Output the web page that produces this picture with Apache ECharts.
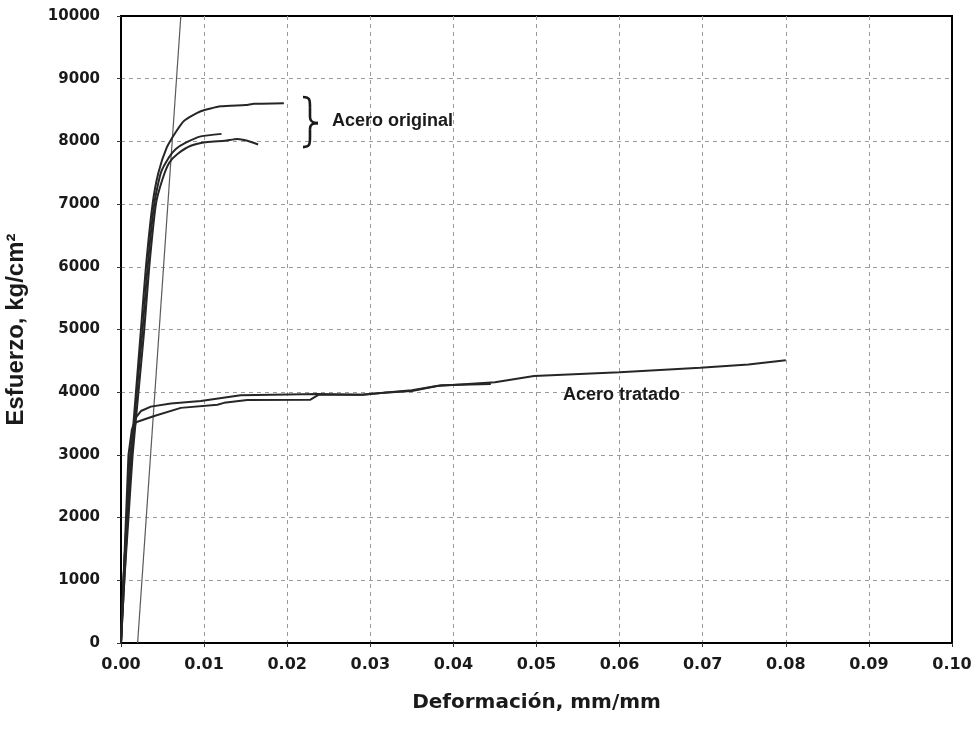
<!DOCTYPE html>
<html>
<head>
<meta charset="utf-8">
<script src="https://cdn.jsdelivr.net/npm/echarts@6/dist/echarts.min.js"></script>
<style>
  html, body { margin: 0; padding: 0; background: #fff; }
  #chart { width: 971px; height: 747px; }
</style>
</head>
<body>
<div id="chart"></div>
<script>
// Stress-strain curves: original steel (3 specimens) and treated steel (2 specimens)
const origAStrain = [0, 0.0003, 0.0007, 0.0012, 0.0018, 0.0024, 0.0030, 0.0038, 0.0045, 0.0055, 0.0066, 0.0076, 0.0096, 0.0120, 0.0150, 0.0160, 0.0196];
const origAStress = [0, 1000, 2000, 3000, 4000, 5000, 6000, 7000, 7500, 7900, 8150, 8330, 8480, 8560, 8580, 8600, 8610];

const origBStrain = [0, 0.0004, 0.0008, 0.0013, 0.0019, 0.0026, 0.0032, 0.0040, 0.0048, 0.0058, 0.0066, 0.0078, 0.0096, 0.0121];
const origBStress = [0, 1000, 2000, 3000, 4000, 5000, 6000, 7000, 7500, 7750, 7880, 7980, 8080, 8120];

const origCStrain = [0, 0.0004, 0.0009, 0.0014, 0.0021, 0.0028, 0.0034, 0.0042, 0.0050, 0.0058, 0.0068, 0.0084, 0.0104, 0.0125, 0.0140, 0.0152, 0.0165];
const origCStress = [0, 1000, 2000, 3000, 4000, 5000, 6000, 7000, 7400, 7660, 7800, 7930, 7990, 8010, 8040, 8010, 7950];

const tratAStrain = [0, 0.0003, 0.0006, 0.0009, 0.0013, 0.0018, 0.0024, 0.0036, 0.0060, 0.0096, 0.0144, 0.0237, 0.0290, 0.0316, 0.0350, 0.0385, 0.0445];
const tratAStress = [0, 1000, 2000, 3000, 3400, 3600, 3700, 3770, 3820, 3860, 3950, 3970, 3960, 3990, 4020, 4110, 4130];

const tratBStrain = [0, 0.0003, 0.0007, 0.0011, 0.0015, 0.0018, 0.0040, 0.0072, 0.0116, 0.0124, 0.0152, 0.0228, 0.0238, 0.0290, 0.0316, 0.0350, 0.0380, 0.0450, 0.0497, 0.0600, 0.0697, 0.0755, 0.0800];
const tratBStress = [0, 1000, 2000, 3000, 3400, 3520, 3620, 3750, 3800, 3830, 3875, 3880, 3960, 3960, 3990, 4030, 4100, 4160, 4260, 4320, 4390, 4440, 4510];

// 0.2% offset line
const offsetStrain = [0.002, 0.0072];
const offsetStress = [0, 10000];

// Axis ticks
const xTicks = [0, 0.01, 0.02, 0.03, 0.04, 0.05, 0.06, 0.07, 0.08, 0.09, 0.10];
const yTicks = [0, 1000, 2000, 3000, 4000, 5000, 6000, 7000, 8000, 9000, 10000];

const labelOriginal = 'Acero original';
const labelTratado = 'Acero tratado';

function pairs(xs, ys) { return xs.map((x, i) => [x, ys[i]]); }

const curveStyle = { color: '#262626', width: 2 };

function curve(name, xs, ys, style, smooth) {
  return {
    name: name,
    type: 'line',
    data: pairs(xs, ys),
    showSymbol: false,
    symbol: 'none',
    smooth: smooth || false,
    clip: true,
    silent: true,
    lineStyle: style || curveStyle,
    z: 3
  };
}

const chart = echarts.init(document.getElementById('chart'), null, { renderer: 'canvas' });

const gridLine = {
  show: true, showMinLine: false, showMaxLine: false,
  lineStyle: { color: '#9a9a9a', width: 1, type: [4, 4] }
};

chart.setOption({
  backgroundColor: '#ffffff',
  animation: false,
  grid: {
    left: 121, right: 19, top: 16, bottom: 104,
    containLabel: false,
    outerBoundsMode: 'none',
    show: true, borderColor: '#000', borderWidth: 2, backgroundColor: 'transparent'
  },
  xAxis: {
    type: 'value',
    min: xTicks[0], max: xTicks[xTicks.length - 1], interval: 0.01,
    name: 'Deformación, mm/mm',
    nameLocation: 'middle',
    nameGap: 50,
    nameTextStyle: { fontFamily: 'DejaVu Sans', fontWeight: 'bold', fontSize: 20, color: '#1a1a1a' },
    axisLine: { show: true, lineStyle: { color: '#000', width: 2 } },
    axisTick: { show: true, inside: false, length: 4, lineStyle: { color: '#333' } },
    axisLabel: {
      margin: 14,
      fontFamily: 'DejaVu Sans', fontWeight: 'bold', fontSize: 16, color: '#1a1a1a',
      formatter: v => v.toFixed(2)
    },
    splitLine: gridLine
  },
  yAxis: {
    type: 'value',
    min: yTicks[0], max: yTicks[yTicks.length - 1], interval: 1000,
    name: 'Esfuerzo, kg/cm²',
    nameLocation: 'middle',
    nameGap: 93,
    nameRotate: 90,
    nameTextStyle: { fontFamily: 'Liberation Sans', fontWeight: 'bold', fontSize: 24, color: '#1a1a1a' },
    axisLine: { show: true, lineStyle: { color: '#000', width: 2 } },
    axisTick: { show: true, inside: false, length: 4, lineStyle: { color: '#333' } },
    axisLabel: {
      margin: 21,
      fontFamily: 'DejaVu Sans', fontWeight: 'bold', fontSize: 15, color: '#1a1a1a',
      formatter: v => String(v)
    },
    splitLine: gridLine
  },
  series: [
    curve('offset', offsetStrain, offsetStress, { color: '#5a5a5a', width: 1.2 }),
    curve('original A', origAStrain, origAStress, null, 0.2),
    curve('original B', origBStrain, origBStress, null, 0.2),
    curve('original C', origCStrain, origCStress, null, 0.2),
    curve('tratado A', tratAStrain, tratAStress),
    curve('tratado B', tratBStrain, tratBStress)
  ]
});

// Annotations anchored in data coordinates
function px(x, y) { return chart.convertToPixel({ gridIndex: 0 }, [x, y]); }

const bTop = px(0.0219, 8707);
const bMid = px(0.0237, 8292);
const bBot = px(0.0219, 7909);
const bx = bTop[0] + 7;
const braceStyle = { stroke: '#1a1a1a', lineWidth: 2.6, fill: null };

function bez(x1, y1, cx1, cy1, cx2, cy2, x2, y2) {
  return {
    type: 'bezierCurve',
    shape: { x1: x1, y1: y1, cpx1: cx1, cpy1: cy1, cpx2: cx2, cpy2: cy2, x2: x2, y2: y2 },
    style: braceStyle, z: 10
  };
}
function seg(x1, y1, x2, y2) {
  return { type: 'line', shape: { x1: x1, y1: y1, x2: x2, y2: y2 }, style: braceStyle, z: 10 };
}

const brace = [
  bez(bTop[0], bTop[1], bx, bTop[1], bx, bTop[1] + 3, bx, bTop[1] + 10),
  seg(bx, bTop[1] + 10, bx, bMid[1] - 6),
  bez(bx, bMid[1] - 6, bx, bMid[1] - 1, bx + 3, bMid[1], bMid[0], bMid[1]),
  bez(bMid[0], bMid[1], bx + 3, bMid[1], bx, bMid[1] + 1, bx, bMid[1] + 6),
  seg(bx, bMid[1] + 6, bx, bBot[1] - 10),
  bez(bx, bBot[1] - 10, bx, bBot[1] - 3, bx, bBot[1], bBot[0], bBot[1])
];

const origPos = px(0.0254, 8325);
const tratPos = px(0.0532, 3952);

chart.setOption({
  graphic: brace.concat([
    {
      type: 'text',
      x: origPos[0], y: origPos[1],
      style: {
        text: labelOriginal,
        font: 'bold 18px "Liberation Sans", Arial, sans-serif',
        fill: '#1a1a1a',
        textAlign: 'left', textVerticalAlign: 'middle'
      },
      z: 10
    },
    {
      type: 'text',
      x: tratPos[0], y: tratPos[1],
      style: {
        text: labelTratado,
        font: 'bold 18px "Liberation Sans", Arial, sans-serif',
        fill: '#1a1a1a',
        textAlign: 'left', textVerticalAlign: 'middle'
      },
      z: 10
    }
  ])
});
</script>
</body>
</html>
